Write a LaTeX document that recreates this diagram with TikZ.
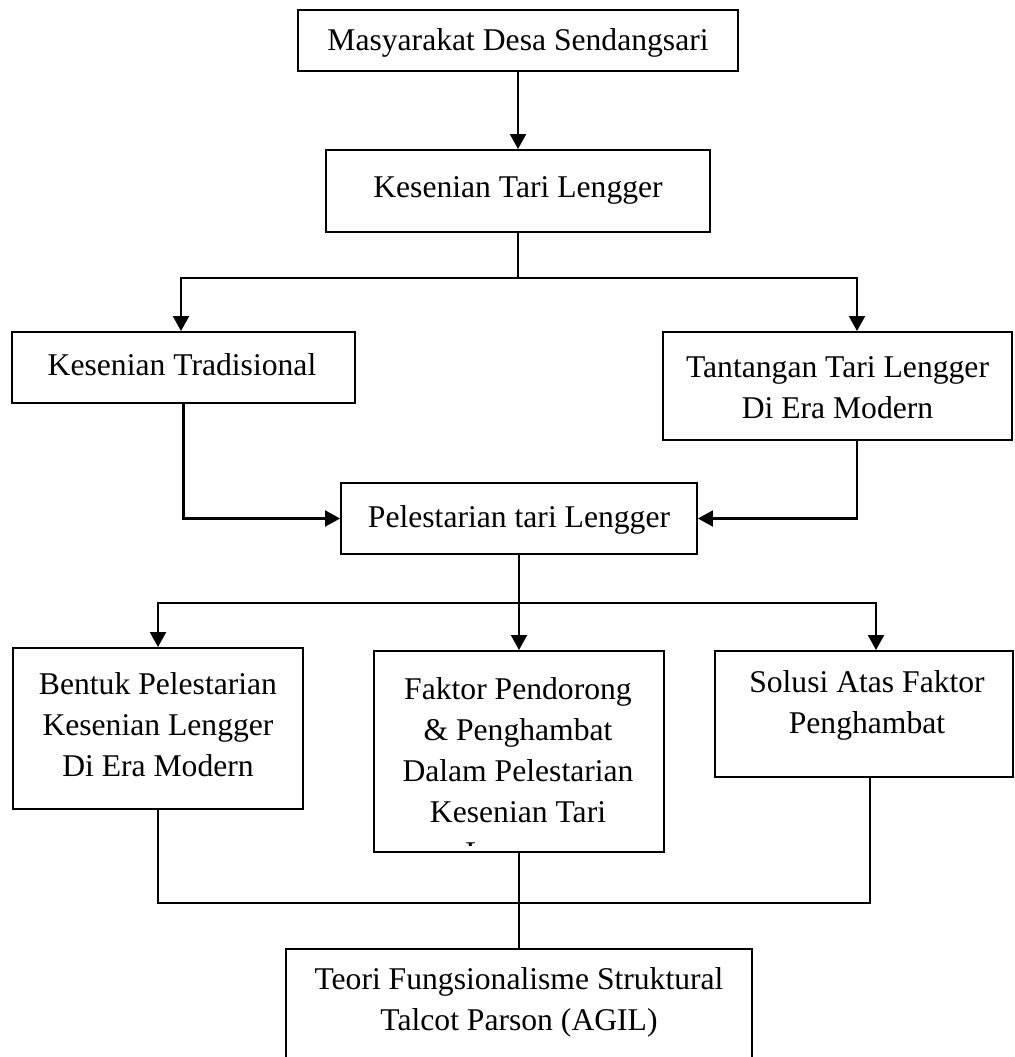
\documentclass[tikz,border=0pt]{standalone}
\usepackage{fontspec}
\setmainfont{Liberation Serif}
\usepackage{tikz}
\usetikzlibrary{arrows.meta}

\begin{document}
\begin{tikzpicture}[font=\fontsize{18}{23.3}\selectfont,
    box/.style={draw, line width=1.1pt, inner sep=0pt},
    txt/.style={align=center, inner sep=0pt},
    link/.style={line width=1.1pt},
    flow/.style={line width=1.2pt, -{Triangle[width=3.2mm,length=3mm]}}]

\useasboundingbox (0,0) rectangle (20.28,-21.14);
\clip (0,0) rectangle (20.28,-21.14);

% ---- top chain
\node[box, minimum width=8.8cm, minimum height=1.22cm] (masy) at (10.36,-0.81) {};
\node[txt] (masy-t) at (10.36,-0.86) {Masyarakat Desa Sendangsari};
\node[box, minimum width=7.68cm, minimum height=1.64cm] (kes) at (10.36,-3.82) {};
\node[txt] (kes-t) at (10.36,-3.81) {Kesenian Tari Lengger};
\draw[flow] (masy) -- (kes);

% ---- split into the two sides
\node[box, minimum width=6.86cm, minimum height=1.42cm] (trad) at (3.67,-7.35) {};
\node[txt] (trad-t) at (3.64,-7.29) {Kesenian Tradisional};
\node[box, minimum width=6.98cm, minimum height=2.16cm] (tant) at (16.75,-7.72) {};
\node[txt] (tant-t) at (16.75,-7.76) {Tantangan Tari Lengger\\Di Era Modern};
\coordinate (bus1) at (10.36,-5.56);
\draw[link] (kes) -- (bus1);
\draw[flow] (bus1) -| ([xshift=-0.5mm]trad.north);
\draw[flow] (bus1) -| ([xshift=3.9mm]tant.north);

% ---- both sides meet
\node[box, minimum width=7.12cm, minimum height=1.42cm] (pel) at (10.38,-10.37) {};
\node[txt] (pel-t) at (10.38,-10.39) {Pelestarian tari Lengger};
\draw[flow] (trad.south) |- (pel.west);
\draw[flow] ([xshift=3.9mm]tant.south) |- (pel.east);

% ---- three branches
\node[box, minimum width=5.8cm, minimum height=3.22cm] (bentuk) at (3.16,-14.57) {};
\node[txt] (bentuk-t) at (3.16,-14.50) {Bentuk Pelestarian\\Kesenian Lengger\\Di Era Modern};
\node[box, minimum width=5.8cm, minimum height=4.02cm] (faktor) at (10.38,-15.03) {};
\begin{scope}
  \clip ([xshift=1pt]faktor.north west) rectangle ([yshift=1.4mm]faktor.south east);
  \node[txt] (faktor-t) at (10.36,-15.48)
    {Faktor Pendorong\\\& Penghambat\\Dalam Pelestarian\\Kesenian Tari\\Lengger};
\end{scope}
\node[box, minimum width=5.96cm, minimum height=2.52cm] (solusi) at (17.28,-14.28) {};
\node[txt] (solusi-t) at (17.34,-14.11) {Solusi Atas Faktor\\Penghambat};
\coordinate (bus2) at (10.38,-12.06);
\draw[link] (pel) -- (bus2);
\draw[flow] (bus2) -| (bentuk.north);
\draw[flow] (bus2) -- (faktor.north);
\draw[flow] (bus2) -| ([xshift=2.4mm]solusi.north);

% ---- theory box, cut by the page edge
\node[box, minimum width=9.32cm, minimum height=3.22cm] (teori) at (10.38,-20.59) {};
\node[txt] (teori-t) at (10.38,-20.04) {Teori Fungsionalisme Struktural\\Talcot Parson (AGIL)};
\coordinate (join) at (10.38,-18.06);
\draw[link] (bentuk.south) |- (join) -| ([xshift=1.2mm]solusi.south);
\draw[link] (faktor.south) -- (teori.north);
\end{tikzpicture}
\end{document}
